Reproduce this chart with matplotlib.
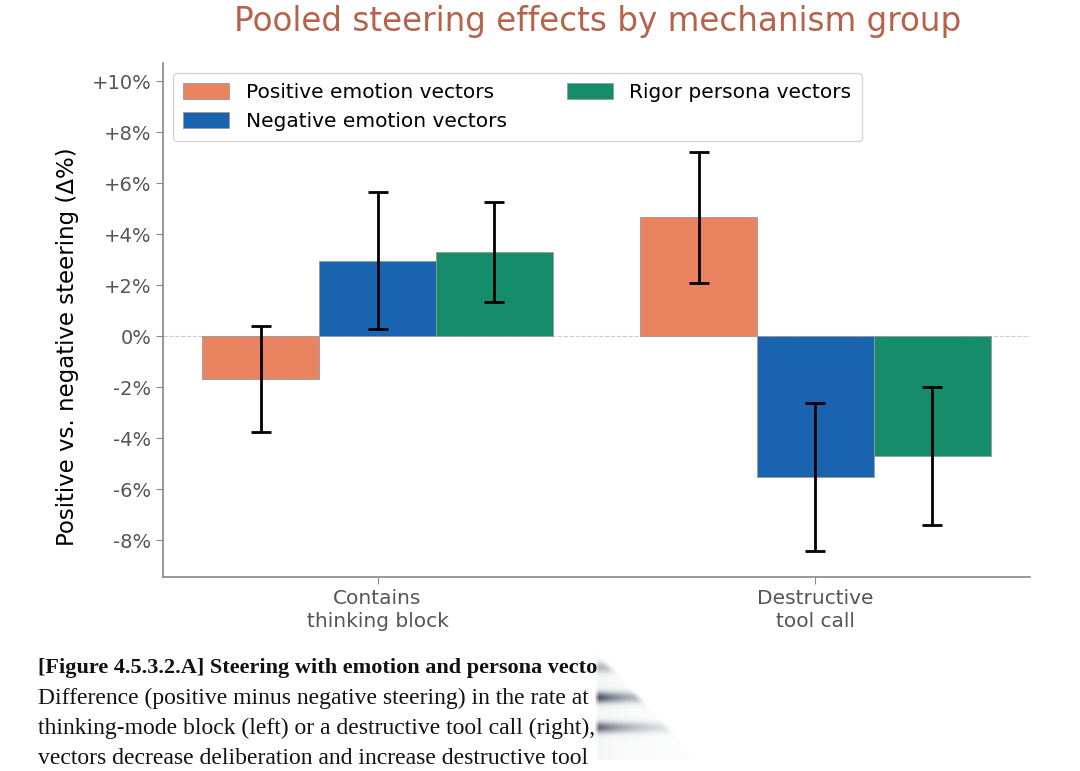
import numpy as np
import matplotlib
matplotlib.use('Agg')
import matplotlib.pyplot as plt
from matplotlib.patches import Patch

groups = ['Contains\nthinking block', 'Destructive\ntool call']
series = ['Positive emotion vectors', 'Negative emotion vectors', 'Rigor persona vectors']
colors = ['#E98360', '#1A63AF', '#168D6A']
values = [[-1.70, 4.66], [2.96, -5.52], [3.30, -4.70]]
errors = [[2.08, 2.57], [2.69, 2.91], [1.97, 2.71]]
yticks = [-8, -6, -4, -2, 0, 2, 4, 6, 8, 10]
ylabels = ['-8%', '-6%', '-4%', '-2%', '0%', '+2%', '+4%', '+6%', '+8%', '+10%']

caption_bold = '[Figure 4.5.3.2.A] Steering with emotion and persona vecto'
caption_lines = ['Difference (positive minus negative steering) in the rate at',
                 'thinking-mode block (left) or a destructive tool call (right),',
                 'vectors decrease deliberation and increase destructive tool']

plt.rcParams['font.family'] = ['DejaVu Sans']

fig = plt.figure(figsize=(10.8, 7.71), dpi=100)
ax = fig.add_axes([0.1509, 0.2516, 0.8028, 0.6667])

x = np.arange(len(groups))
w = 0.8 / 3
for i, name in enumerate(series):
    ax.bar(x + (i - 1) * w, values[i], w, color=colors[i], edgecolor='#999999',
           linewidth=0.6, label=name, zorder=2)
    ax.errorbar(x + (i - 1) * w, values[i], yerr=errors[i], fmt='none',
                ecolor='black', elinewidth=2, capsize=7, capthick=2, zorder=3)

ax.axhline(0, color='#cccccc', linestyle='--', linewidth=0.8, zorder=1)
ax.set_xlim(-0.49, 1.49)
ax.set_ylim(-9.45, 10.71)
ax.set_yticks(yticks)
ax.set_yticklabels(ylabels)
ax.set_xticks(x)
ax.set_xticklabels(groups, linespacing=1.25)
for s in ['top', 'right']:
    ax.spines[s].set_visible(False)
for s in ['left', 'bottom']:
    ax.spines[s].set_color('#888888')
    ax.spines[s].set_linewidth(1.2)
ax.tick_params(axis='y', colors='#888888', labelcolor='#555555', labelsize=14, length=5)
ax.tick_params(axis='x', colors='#888888', labelcolor='#555555', labelsize=14.5, length=5)
ax.set_ylabel('Positive vs. negative steering (Δ%)', fontsize=16.5, color='black')
ax.yaxis.set_label_coords(-0.097, 0.449)

handles = [Patch(facecolor=c, edgecolor='#999999', linewidth=0.6) for c in colors]
ax.legend(handles, series, ncol=2, loc='upper left', bbox_to_anchor=(0.0, 1.0),
          fontsize=14.5, frameon=True, edgecolor='#cccccc', handlelength=2.3,
          handleheight=0.85, columnspacing=3.0, labelspacing=0.5, borderpad=0.5)

fig.text(0.553, 0.972, 'Pooled steering effects by mechanism group', ha='center', va='center',
         fontsize=23.5, color='#B5634B')

serif = ['Liberation Serif', 'DejaVu Serif']
fig.text(0.035, 0.133, caption_bold, fontsize=16, fontweight='bold',
         family=serif, va='center', color='#111111')
for k, line in enumerate(caption_lines):
    fig.text(0.035, 0.133 - (k + 1) * 0.039, line, fontsize=17,
             family=serif, va='center', color='#111111')

# smeared end of the cropped caption (screenshot artefact)
sx = np.arange(590, 700)
sy = np.arange(655, 760)
X, Y = np.meshgrid(sx, sy)
alpha = np.zeros(X.shape)
for yc, strength in [(667, 0.35), (697, 0.9), (727, 0.8)]:
    alpha += strength * np.exp(-((Y - yc) / 5.5) ** 2) * np.exp(-(X - 598) / 40.0)
alpha += 0.05 * np.exp(-(X - 598) / 60.0)
edge = 602 + (Y - 655) * 0.95
alpha *= np.clip((edge - X) / 8.0, 0, 1)
alpha *= np.clip((X - 594) / 5.0, 0, 1)
rgba = np.zeros(X.shape + (4,))
rgba[..., 0] = 0.25
rgba[..., 1] = 0.30
rgba[..., 2] = 0.36
rgba[..., 3] = np.clip(alpha, 0, 1)
sax = fig.add_axes([590 / 1080, 1 - 760 / 771, 110 / 1080, 105 / 771])
sax.imshow(rgba, aspect='auto', interpolation='bilinear')
sax.axis('off')

fig.savefig('out.png', dpi=100, facecolor='white')
